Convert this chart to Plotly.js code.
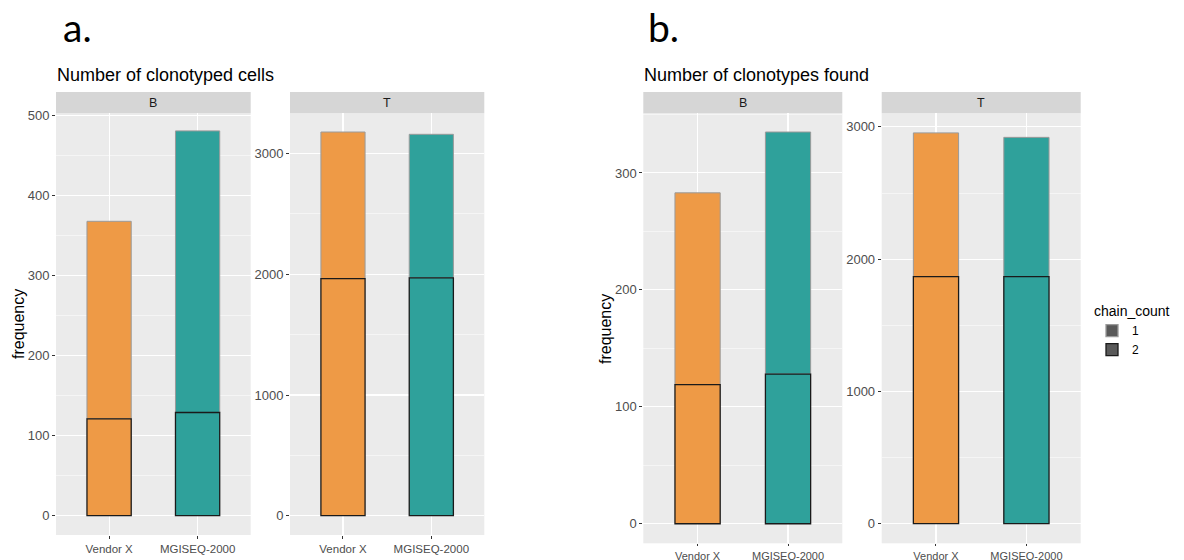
<!DOCTYPE html>
<html>
<head>
<meta charset="utf-8">
<script src="https://cdn.plot.ly/plotly-3.0.1.min.js"></script>
<style>html,body{margin:0;padding:0;background:#fff;}#chart{width:1184px;height:560px;}</style>
</head>
<body>
<div id="chart"></div>
<script>
// ---- data ----
const samples = ["Vendor X", "MGISEQ-2000"];
const sampleColors = ["#EE9A46", "#2FA19B"];
const chainLabels = ["1", "2"];
const facets = ["B", "T"];
const panelTitles = ["Number of clonotyped cells", "Number of clonotypes found"];
const panelLetters = ["a.", "b."];

// a. Number of clonotyped cells
const cellsB_chain1 = [247, 352];
const cellsB_chain2 = [121, 129];
const cellsT_chain1 = [1214, 1190];
const cellsT_chain2 = [1965, 1970];
// b. Number of clonotypes found
const clonoB_chain1 = [164, 207];
const clonoB_chain2 = [119, 128];
const clonoT_chain1 = [1087, 1053];
const clonoT_chain2 = [1868, 1868];

// ---- layout helpers ----
const W = 1184, H = 560;
const fx = p => p / W;
const fy = p => 1 - p / H;

const panels = [
  {c1: cellsB_chain1, c2: cellsB_chain2, facet: facets[0], x0: 56, x1: 250.7, y0: 113.3, y1: 535, dt: 100, range: [-24.1, 503], lift: 0},
  {c1: cellsT_chain1, c2: cellsT_chain2, facet: facets[1], x0: 290, x1: 484.3, y0: 113.3, y1: 535, dt: 1000, range: [-160, 3334], lift: 0},
  {c1: clonoB_chain1, c2: clonoB_chain2, facet: facets[0], x0: 643.3, x1: 842.3, y0: 113.3, y1: 543.3, dt: 100, range: [-16.7, 351], lift: 1},
  {c1: clonoT_chain1, c2: clonoT_chain2, facet: facets[1], x0: 881.7, x1: 1080.7, y0: 113.3, y1: 543.3, dt: 1000, range: [-148, 3103], lift: 1}
];

const traces = [];
const layout = {
  width: W, height: H,
  margin: {l: 0, r: 0, t: 0, b: 0},
  paper_bgcolor: "#ffffff",
  plot_bgcolor: "#ebebeb",
  barmode: "overlay",
  showlegend: true,
  font: {family: "Liberation Sans, Arial, sans-serif", color: "#4d4d4d", size: 12},
  legend: {
    x: fx(1092), y: fy(298), xanchor: "left", yanchor: "top",
    title: {text: "chain_count", font: {size: 14, color: "#000"}},
    font: {size: 12, color: "#000"},
    tracegroupgap: 0, bgcolor: "rgba(0,0,0,0)", itemwidth: 30
  },
  shapes: [], annotations: []
};

panels.forEach((p, i) => {
  const n = i + 1;
  const xa = "x" + (n === 1 ? "" : n), ya = "y" + (n === 1 ? "" : n);
  const xKey = "xaxis" + (n === 1 ? "" : n), yKey = "yaxis" + (n === 1 ? "" : n);
  // chain 1 (upper segment) drawn first, stacked on top of chain 2
  traces.push({
    type: "bar", x: samples, y: p.c1, base: p.c2, width: 0.5,
    xaxis: xa, yaxis: ya, showlegend: false, hoverinfo: "skip",
    marker: {color: sampleColors, line: {color: "#9a9a9a", width: 1}}
  });
  traces.push({
    type: "bar", x: samples, y: p.c2, width: 0.5,
    xaxis: xa, yaxis: ya, showlegend: false, hoverinfo: "skip",
    marker: {color: sampleColors, line: {color: "#1a1a1a", width: 1.3}}
  });
  layout[xKey] = {
    domain: [fx(p.x0), fx(p.x1)], anchor: ya,
    type: "category", range: [-0.6, 1.6],
    showgrid: true, gridcolor: "#ffffff", gridwidth: 1.1,
    zeroline: false, showline: false,
    ticks: "outside", ticklen: p.lift ? 2 : 3, tickcolor: "#333333", tickwidth: 1,
    tickfont: {size: p.lift ? 11 : 11.5, color: "#4d4d4d"}, fixedrange: true
  };
  layout[yKey] = {
    domain: [fy(p.y1), fy(p.y0)], anchor: xa,
    range: p.range, dtick: p.dt, tick0: 0,
    showgrid: true, gridcolor: "#ffffff", gridwidth: 1.1,
    minor: {dtick: p.dt / 2, showgrid: true, gridcolor: "#ffffff", gridwidth: 0.5, ticklen: 0},
    zeroline: false, showline: false,
    ticks: "outside", ticklen: 3, tickcolor: "#333333", tickwidth: 1,
    tickfont: {size: 13, color: "#4d4d4d"}, fixedrange: true
  };
  // facet strip
  layout.shapes.push({
    type: "rect", xref: "paper", yref: "paper",
    x0: fx(p.x0), x1: fx(p.x1), y0: fy(p.y0), y1: fy(92),
    fillcolor: "#d6d6d6", line: {width: 0}, layer: "below"
  });
  layout.annotations.push({
    xref: "paper", yref: "paper", x: fx((p.x0 + p.x1) / 2), y: fy((92 + p.y0) / 2),
    text: p.facet, showarrow: false, xanchor: "center", yanchor: "middle",
    font: {size: 12.5, color: "#1a1a1a"}
  });
});

// legend entries (chain_count)
chainLabels.forEach((lab, k) => {
  traces.push({
    type: "bar", x: [null], y: [null], name: lab, xaxis: "x", yaxis: "y",
    showlegend: true, hoverinfo: "skip",
    marker: {color: "#595959", line: {color: k === 0 ? "#9a9a9a" : "#1a1a1a", width: 1.3}}
  });
});

// titles and letters
layout.annotations.push(
  {xref: "paper", yref: "paper", x: fx(55), y: fy(75), xanchor: "left", yanchor: "middle",
   text: panelTitles[0], showarrow: false, font: {size: 18, color: "#000"}},
  {xref: "paper", yref: "paper", x: fx(642), y: fy(75), xanchor: "left", yanchor: "middle",
   text: panelTitles[1], showarrow: false, font: {size: 18, color: "#000"}},
  {xref: "paper", yref: "paper", x: fx(61), y: fy(27), xanchor: "left", yanchor: "middle",
   text: panelLetters[0], showarrow: false, font: {family: "Lato, Open Sans, sans-serif", size: 39, color: "#000"}},
  {xref: "paper", yref: "paper", x: fx(646), y: fy(27), xanchor: "left", yanchor: "middle",
   text: panelLetters[1], showarrow: false, font: {family: "Lato, Open Sans, sans-serif", size: 39, color: "#000"}},
  {xref: "paper", yref: "paper", x: fx(18), y: fy(324), xanchor: "center", yanchor: "middle",
   text: "frequency", textangle: -90, showarrow: false, font: {size: 16, color: "#000"}},
  {xref: "paper", yref: "paper", x: fx(605), y: fy(329), xanchor: "center", yanchor: "middle",
   text: "frequency", textangle: -90, showarrow: false, font: {size: 16, color: "#000"}}
);

Plotly.newPlot("chart", traces, layout, {displayModeBar: false, staticPlot: true});
</script>
</body>
</html>
